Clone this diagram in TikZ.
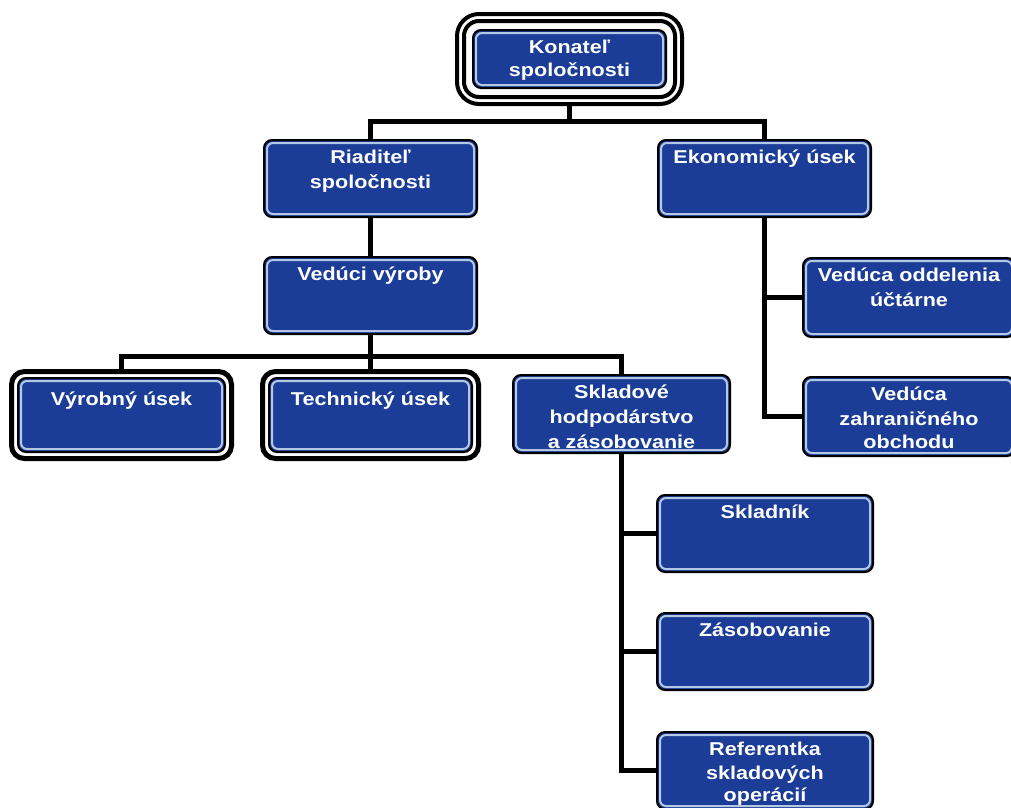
\documentclass[tikz,border=0pt]{standalone}
\usepackage{fontspec}
\newfontfamily\boxfont[FakeStretch=1.16]{Liberation Sans}
\definecolor{boxblue}{HTML}{1B3D98}
\definecolor{boxrim}{HTML}{B4C8E4}
\newcommand\boxtext[2]{\parbox[c][#1][t]{190pt}{\centering\strut #2}}
\tikzset{
  orgbox/.style={draw=black, line width=2pt, fill=boxblue, rounded corners=8pt,
    inner sep=0pt, text=white, font=\boxfont\bfseries\fontsize{18.6}{25}\selectfont,
    path picture={\draw[boxrim, line width=2pt, rounded corners=6pt]
      ([shift={(3pt,3pt)}]path picture bounding box.south west) rectangle
      ([shift={(-3pt,-3pt)}]path picture bounding box.north east);}},
  std/.style={orgbox, minimum width=213pt, minimum height=77pt},
  conn/.style={draw=black, line width=5pt},
  rim/.style={draw=black, line width=#1},
}
\begin{document}
\begin{tikzpicture}[x=1pt,y=-1pt]
  \useasboundingbox (0,0) rectangle (1011,807);
  % top
  \node[orgbox, minimum width=193pt, minimum height=58pt] (kon) at (569.5,59)
    {\boxtext{46pt}{Konateľ\\[-2pt]spoločnosti}};
  \node[std] (riad) at (370.5,178.5) {\boxtext{65pt}{Riaditeľ\\spoločnosti}};
  \node[std] (ekon) at (764.5,178.5) {\boxtext{65pt}{Ekonomický úsek}};
  \node[std] (ved) at (370.5,295.5) {\boxtext{65pt}{Vedúci výroby}};
  % production
  \node[orgbox, minimum width=207pt, minimum height=74pt] (vyr) at (121.5,415)
    {\boxtext{55pt}{Výrobný úsek}};
  \node[orgbox, minimum width=203pt, minimum height=74pt] (tech) at (370.5,415)
    {\boxtext{55pt}{Technický úsek}};
  \node[orgbox, minimum width=217pt, minimum height=78pt] (skl) at (621.5,414)
    {\boxtext{66pt}{Skladové\\hodpodárstvo\\a zásobovanie}};
  % economy
  \node[orgbox, minimum width=212pt, minimum height=79pt] (uct) at (909,297.5)
    {\boxtext{67pt}{Vedúca oddelenia\\účtárne}};
  \node[orgbox, minimum width=212pt, minimum height=79pt] (zahr) at (909,416.5)
    {\boxtext{67pt}{Vedúca\\zahraničného\\[-2pt]obchodu}};
  % store
  \node[std, minimum width=216pt] (skla) at (765,533.5) {\boxtext{65pt}{Skladník}};
  \node[std, minimum width=216pt] (zaso) at (765,651.5) {\boxtext{65pt}{Zásobovanie}};
  \node[std, minimum width=216pt] (ref) at (765,770.5)
    {\boxtext{65pt}{Referentka\\[-1pt]skladových\\[-3pt]operácií}};
  % frames
  \draw[rim=4pt, rounded corners=15pt] ([shift={(-8pt,8pt)}]kon.north west)
    rectangle ([shift={(8pt,-8pt)}]kon.south east);
  \draw[rim=4pt, rounded corners=22pt] ([shift={(-15pt,15pt)}]kon.north west)
    rectangle ([shift={(15pt,-15pt)}]kon.south east);
  \draw[rim=5pt, rounded corners=13pt] ([shift={(-5.5pt,5.5pt)}]vyr.north west)
    rectangle ([shift={(5.5pt,-5.5pt)}]vyr.south east);
  \draw[rim=5pt, rounded corners=13pt] ([shift={(-5.5pt,5.5pt)}]tech.north west)
    rectangle ([shift={(5.5pt,-5.5pt)}]tech.south east);
  % connectors
  \coordinate (bar1) at (569.5,121);
  \coordinate (bar2) at (370.5,356);
  \draw[conn] ([yshift=-17pt]kon.south) -- (bar1);
  \draw[conn] (riad.north) |- (bar1) -| (ekon.north);
  \draw[conn] (riad.south) -- (ved.north);
  \draw[conn] (ved.south) -- (bar2);
  \draw[conn] ([yshift=8pt]vyr.north) |- (bar2) -| (skl.north);
  \draw[conn] (bar2) -- ([yshift=8pt]tech.north);
  \draw[conn] (ekon.south) |- (uct.west);
  \draw[conn] (ekon.south) |- (zahr.west);
  \draw[conn] (skl.south) |- (skla.west);
  \draw[conn] (skl.south) |- (zaso.west);
  \draw[conn] (skl.south) |- (ref.west);
\end{tikzpicture}
\end{document}
